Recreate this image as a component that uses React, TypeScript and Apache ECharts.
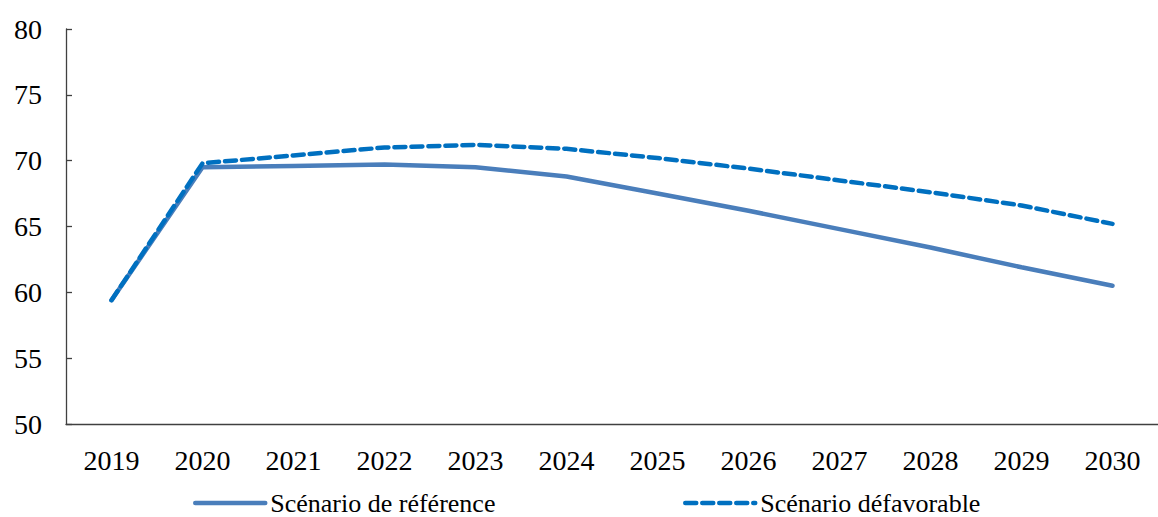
import React, { useEffect, useRef } from "react";
import * as echarts from "echarts";

const years = ["2019", "2020", "2021", "2022", "2023", "2024", "2025", "2026", "2027", "2028", "2029", "2030"];
const reference = [59.4, 69.5, 69.6, 69.7, 69.5, 68.8, 67.5, 66.2, 64.8, 63.4, 61.9, 60.5];
const unfavorable = [59.4, 69.8, 70.4, 71.0, 71.2, 70.9, 70.2, 69.4, 68.5, 67.6, 66.6, 65.2];
const seriesNames = ["Scénario de référence", "Scénario défavorable"];

const FONT = "'Liberation Serif', 'Times New Roman', serif";

export default function App() {
  const ref = useRef<HTMLDivElement>(null);
  useEffect(() => {
    document.body.style.margin = "0";
    const chart = echarts.init(ref.current!, null, { renderer: "svg" });
    const legendBase = {
      top: 490,
      padding: 0,
      itemWidth: 70,
      itemHeight: 14,
      itemGap: 0,
      itemStyle: { opacity: 0 },
      textStyle: { fontFamily: FONT, fontSize: 26, color: "#000", lineHeight: 26 },
    };
    chart.setOption({
      animation: false,
      grid: { left: 66, top: 29, bottom: 93, right: -8 },
      legend: [
        {
          ...legendBase,
          left: 193,
          data: [seriesNames[0]],
          lineStyle: { width: 4.5, color: "#4a7ebb" },
        },
        {
          ...legendBase,
          left: 683,
          data: [seriesNames[1]],
          lineStyle: { width: 4.5, color: "#0070c0", type: [11, 6], cap: "round" },
        },
      ],
      xAxis: {
        type: "category",
        data: years,
        boundaryGap: true,
        axisLine: { lineStyle: { color: "#404040", width: 1.3 } },
        axisTick: { inside: true, length: 8, lineStyle: { color: "#404040", width: 1.3 } },
        axisLabel: { fontFamily: FONT, fontSize: 28, color: "#000", margin: 22 },
      },
      yAxis: {
        type: "value",
        min: 50,
        max: 80,
        interval: 5,
        splitLine: { show: false },
        axisLine: { show: true, lineStyle: { color: "#404040", width: 1.3 } },
        axisTick: { show: true, inside: true, length: 6, lineStyle: { color: "#404040", width: 1.3 } },
        axisLabel: { fontFamily: FONT, fontSize: 28, color: "#000", margin: 24 },
      },
      series: [
        {
          name: seriesNames[0],
          type: "line",
          data: reference,
          symbol: "none",
          lineStyle: { color: "#4a7ebb", width: 4.5, cap: "round" },
          itemStyle: { color: "#4a7ebb" },
        },
        {
          name: seriesNames[1],
          type: "line",
          data: unfavorable,
          symbol: "none",
          lineStyle: { color: "#0070c0", width: 4.5, type: [11, 6], cap: "round" },
          itemStyle: { color: "#0070c0" },
        },
      ],
    });
    return () => chart.dispose();
  }, []);
  return <div ref={ref} style={{ width: 1158, height: 517 }} />;
}
